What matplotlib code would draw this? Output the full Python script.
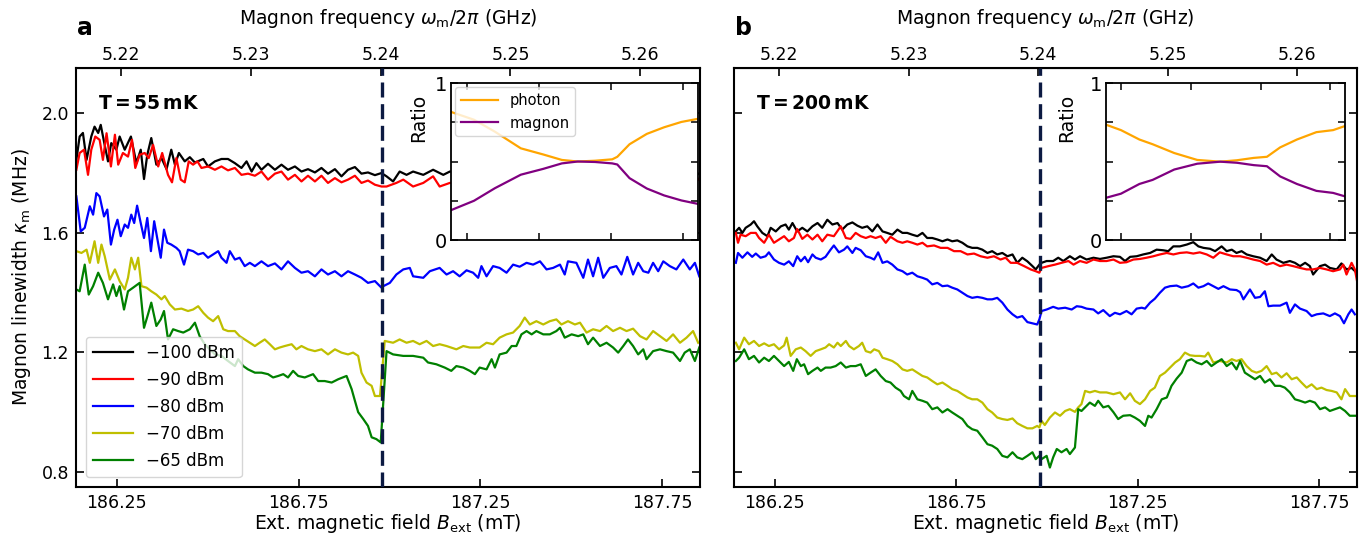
import numpy as np
import matplotlib
matplotlib.use('Agg')
import matplotlib.pyplot as plt

# ---------------------------------------------------------------------
# Data: (B_ext [mT], kappa_m [MHz]) pairs
# ---------------------------------------------------------------------
powers = ['\u2212100 dBm', '\u221290 dBm', '\u221280 dBm', '\u221270 dBm', '\u221265 dBm']
colors = ['k', 'r', 'b', 'y', 'g']

# T = 55 mK
k55_m100 = [(186.139, 1.843), (186.148, 1.921), (186.157, 1.933), (186.167, 1.843), (186.180, 1.921),
            (186.189, 1.954), (186.199, 1.933), (186.206, 1.960), (186.215, 1.904), (186.226, 1.838),
            (186.235, 1.899), (186.249, 1.877), (186.258, 1.921), (186.272, 1.877), (186.289, 1.921),
            (186.304, 1.832), (186.316, 1.877), (186.325, 1.779), (186.334, 1.860), (186.345, 1.916),
            (186.359, 1.827), (186.373, 1.849), (186.387, 1.812), (186.400, 1.877), (186.410, 1.827),
            (186.421, 1.866), (186.437, 1.838), (186.451, 1.852), (186.465, 1.834), (186.488, 1.846),
            (186.501, 1.821), (186.520, 1.838), (186.538, 1.846), (186.556, 1.846), (186.575, 1.832),
            (186.593, 1.816), (186.607, 1.838), (186.621, 1.804), (186.634, 1.832), (186.648, 1.810),
            (186.666, 1.830), (186.685, 1.810), (186.703, 1.827), (186.721, 1.810), (186.740, 1.821),
            (186.758, 1.804), (186.776, 1.812), (186.795, 1.801), (186.813, 1.816), (186.831, 1.797),
            (186.850, 1.812), (186.868, 1.788), (186.886, 1.810), (186.905, 1.819), (186.923, 1.797),
            (186.941, 1.801), (186.960, 1.792), (186.978, 1.799), (186.992, 1.788), (187.010, 1.771),
            (187.028, 1.804), (187.047, 1.793), (187.065, 1.804), (187.093, 1.793), (187.120, 1.810),
            (187.148, 1.793), (187.166, 1.804), (187.250, 1.800), (187.400, 1.800), (187.550, 1.800),
            (187.700, 1.800), (187.800, 1.800), (187.840, 1.790), (187.855, 1.800)]
k55_m90 = [(186.139, 1.810), (186.148, 1.866), (186.160, 1.877), (186.171, 1.793), (186.180, 1.877),
           (186.191, 1.921), (186.203, 1.910), (186.212, 1.843), (186.222, 1.932), (186.234, 1.821),
           (186.245, 1.927), (186.254, 1.827), (186.267, 1.866), (186.281, 1.854), (186.292, 1.910),
           (186.301, 1.816), (186.313, 1.860), (186.327, 1.866), (186.338, 1.849), (186.350, 1.893),
           (186.364, 1.821), (186.375, 1.866), (186.391, 1.793), (186.402, 1.768), (186.414, 1.849),
           (186.426, 1.777), (186.437, 1.768), (186.448, 1.838), (186.460, 1.827), (186.472, 1.838),
           (186.483, 1.816), (186.501, 1.821), (186.520, 1.810), (186.538, 1.821), (186.556, 1.808),
           (186.575, 1.816), (186.593, 1.793), (186.611, 1.797), (186.630, 1.790), (186.648, 1.804),
           (186.666, 1.777), (186.685, 1.797), (186.703, 1.804), (186.721, 1.777), (186.740, 1.793),
           (186.758, 1.771), (186.776, 1.790), (186.795, 1.771), (186.813, 1.790), (186.831, 1.766),
           (186.850, 1.782), (186.868, 1.768), (186.886, 1.777), (186.905, 1.790), (186.923, 1.766),
           (186.941, 1.774), (186.960, 1.760), (186.978, 1.754), (186.992, 1.754), (187.019, 1.766),
           (187.038, 1.777), (187.065, 1.754), (187.093, 1.766), (187.120, 1.788), (187.138, 1.754),
           (187.166, 1.766), (187.250, 1.775), (187.400, 1.775), (187.550, 1.775), (187.700, 1.775),
           (187.800, 1.775), (187.840, 1.765), (187.855, 1.785)]
k55_m80 = [(186.139, 1.721), (186.151, 1.604), (186.162, 1.616), (186.176, 1.688), (186.185, 1.660),
           (186.194, 1.732), (186.203, 1.721), (186.215, 1.654), (186.224, 1.677), (186.234, 1.560),
           (186.243, 1.610), (186.252, 1.643), (186.261, 1.588), (186.272, 1.627), (186.281, 1.616),
           (186.290, 1.660), (186.298, 1.632), (186.306, 1.690), (186.316, 1.632), (186.325, 1.582),
           (186.334, 1.649), (186.344, 1.538), (186.353, 1.638), (186.362, 1.577), (186.371, 1.516),
           (186.380, 1.610), (186.389, 1.566), (186.400, 1.560), (186.414, 1.549), (186.423, 1.538),
           (186.435, 1.493), (186.446, 1.543), (186.460, 1.538), (186.474, 1.527), (186.488, 1.532),
           (186.501, 1.516), (186.515, 1.527), (186.529, 1.538), (186.538, 1.516), (186.552, 1.499),
           (186.561, 1.538), (186.575, 1.510), (186.588, 1.516), (186.602, 1.488), (186.616, 1.499),
           (186.630, 1.488), (186.648, 1.504), (186.666, 1.488), (186.685, 1.497), (186.703, 1.477),
           (186.721, 1.504), (186.740, 1.482), (186.758, 1.466), (186.776, 1.471), (186.795, 1.454),
           (186.813, 1.477), (186.831, 1.460), (186.850, 1.471), (186.868, 1.454), (186.886, 1.471),
           (186.905, 1.460), (186.923, 1.449), (186.941, 1.432), (186.960, 1.438), (186.978, 1.416),
           (186.983, 1.421), (187.001, 1.432), (187.019, 1.460), (187.038, 1.477), (187.056, 1.482),
           (187.065, 1.454), (187.093, 1.449), (187.111, 1.471), (187.138, 1.482), (187.157, 1.460),
           (187.175, 1.471), (187.193, 1.454), (187.212, 1.474), (187.230, 1.466), (187.244, 1.449),
           (187.253, 1.488), (187.267, 1.454), (187.285, 1.488), (187.303, 1.482), (187.322, 1.466),
           (187.340, 1.493), (187.358, 1.486), (187.377, 1.499), (187.395, 1.493), (187.414, 1.504),
           (187.432, 1.477), (187.450, 1.482), (187.469, 1.493), (187.482, 1.460), (187.491, 1.504),
           (187.514, 1.499), (187.533, 1.449), (187.546, 1.510), (187.560, 1.454), (187.574, 1.516),
           (187.588, 1.449), (187.606, 1.482), (187.624, 1.488), (187.638, 1.460), (187.654, 1.519),
           (187.670, 1.460), (187.684, 1.499), (187.698, 1.471), (187.712, 1.466), (187.725, 1.499),
           (187.739, 1.471), (187.753, 1.504), (187.771, 1.488), (187.789, 1.477), (187.808, 1.510),
           (187.826, 1.477), (187.840, 1.499), (187.852, 1.454)]
k55_m70 = [(186.139, 1.538), (186.153, 1.532), (186.167, 1.543), (186.176, 1.499), (186.189, 1.571),
           (186.199, 1.499), (186.208, 1.560), (186.217, 1.521), (186.231, 1.443), (186.245, 1.477),
           (186.258, 1.438), (186.272, 1.410), (186.281, 1.449), (186.290, 1.516), (186.300, 1.477),
           (186.309, 1.516), (186.318, 1.421), (186.332, 1.416), (186.345, 1.404), (186.359, 1.393),
           (186.373, 1.377), (186.382, 1.388), (186.396, 1.360), (186.410, 1.343), (186.428, 1.346),
           (186.446, 1.338), (186.460, 1.343), (186.474, 1.354), (186.488, 1.332), (186.501, 1.316),
           (186.515, 1.304), (186.529, 1.321), (186.543, 1.277), (186.556, 1.271), (186.575, 1.271),
           (186.588, 1.254), (186.602, 1.243), (186.616, 1.232), (186.630, 1.221), (186.643, 1.232),
           (186.657, 1.243), (186.671, 1.227), (186.685, 1.210), (186.698, 1.216), (186.712, 1.221),
           (186.731, 1.227), (186.744, 1.210), (186.758, 1.221), (186.776, 1.210), (186.795, 1.204),
           (186.813, 1.210), (186.831, 1.193), (186.850, 1.210), (186.868, 1.199), (186.886, 1.193),
           (186.900, 1.199), (186.914, 1.188), (186.923, 1.132), (186.937, 1.099), (186.951, 1.088),
           (186.960, 1.054), (186.974, 1.054), (186.987, 1.238), (187.010, 1.232), (187.028, 1.243),
           (187.047, 1.232), (187.065, 1.238), (187.083, 1.227), (187.102, 1.238), (187.120, 1.221),
           (187.138, 1.227), (187.157, 1.221), (187.184, 1.210), (187.203, 1.221), (187.221, 1.216),
           (187.248, 1.216), (187.267, 1.232), (187.285, 1.227), (187.303, 1.249), (187.322, 1.260),
           (187.340, 1.266), (187.358, 1.288), (187.372, 1.316), (187.386, 1.293), (187.404, 1.304),
           (187.423, 1.293), (187.441, 1.304), (187.459, 1.310), (187.473, 1.293), (187.491, 1.304),
           (187.510, 1.293), (187.524, 1.299), (187.542, 1.266), (187.560, 1.277), (187.579, 1.271),
           (187.597, 1.288), (187.615, 1.271), (187.634, 1.282), (187.652, 1.271), (187.670, 1.279),
           (187.689, 1.254), (187.707, 1.243), (187.725, 1.271), (187.744, 1.254), (187.762, 1.238),
           (187.780, 1.260), (187.799, 1.232), (187.817, 1.249), (187.835, 1.271), (187.849, 1.232)]
k55_m65 = [(186.139, 1.410), (186.148, 1.404), (186.162, 1.493), (186.173, 1.393), (186.185, 1.421),
           (186.199, 1.466), (186.212, 1.432), (186.226, 1.377), (186.240, 1.427), (186.249, 1.388),
           (186.258, 1.421), (186.270, 1.343), (186.281, 1.404), (186.295, 1.416), (186.313, 1.432),
           (186.325, 1.282), (186.336, 1.327), (186.345, 1.366), (186.359, 1.288), (186.371, 1.310),
           (186.380, 1.338), (186.391, 1.243), (186.405, 1.277), (186.419, 1.271), (186.433, 1.266),
           (186.451, 1.277), (186.465, 1.299), (186.478, 1.254), (186.492, 1.227), (186.506, 1.210),
           (186.520, 1.193), (186.538, 1.188), (186.556, 1.171), (186.575, 1.154), (186.584, 1.177),
           (186.598, 1.154), (186.611, 1.143), (186.630, 1.132), (186.648, 1.132), (186.666, 1.127),
           (186.680, 1.116), (186.694, 1.121), (186.708, 1.127), (186.721, 1.116), (186.735, 1.138),
           (186.749, 1.121), (186.767, 1.116), (186.790, 1.127), (186.804, 1.104), (186.822, 1.104),
           (186.841, 1.099), (186.859, 1.110), (186.882, 1.121), (186.896, 1.077), (186.905, 1.038),
           (186.914, 1.000), (186.928, 0.977), (186.941, 0.954), (186.951, 0.916), (186.964, 0.910),
           (186.976, 0.899), (186.992, 1.204), (187.010, 1.193), (187.038, 1.188), (187.065, 1.188),
           (187.093, 1.182), (187.106, 1.166), (187.129, 1.160), (187.152, 1.149), (187.170, 1.138),
           (187.184, 1.154), (187.203, 1.149), (187.221, 1.138), (187.235, 1.127), (187.248, 1.149),
           (187.267, 1.143), (187.281, 1.177), (187.290, 1.149), (187.303, 1.193), (187.322, 1.199),
           (187.336, 1.221), (187.349, 1.221), (187.363, 1.260), (187.377, 1.271), (187.391, 1.260),
           (187.404, 1.271), (187.423, 1.260), (187.441, 1.260), (187.459, 1.271), (187.469, 1.282),
           (187.482, 1.249), (187.501, 1.260), (187.519, 1.254), (187.533, 1.260), (187.546, 1.227),
           (187.560, 1.249), (187.579, 1.221), (187.597, 1.232), (187.615, 1.216), (187.629, 1.199),
           (187.643, 1.221), (187.656, 1.243), (187.670, 1.221), (187.684, 1.193), (187.698, 1.210),
           (187.707, 1.177), (187.725, 1.204), (187.744, 1.210), (187.762, 1.204), (187.780, 1.199),
           (187.799, 1.171), (187.812, 1.199), (187.826, 1.210), (187.840, 1.171), (187.852, 1.216)]

# T = 200 mK
k200_m100 = [(186.143, 1.604), (186.152, 1.616), (186.161, 1.599), (186.170, 1.616), (186.184, 1.627),
             (186.193, 1.638), (186.202, 1.621), (186.216, 1.599), (186.230, 1.588), (186.239, 1.616),
             (186.253, 1.604), (186.267, 1.621), (186.280, 1.627), (186.289, 1.610), (186.299, 1.632),
             (186.312, 1.604), (186.326, 1.616), (186.340, 1.604), (186.354, 1.621), (186.368, 1.632),
             (186.381, 1.616), (186.395, 1.643), (186.409, 1.627), (186.423, 1.632), (186.436, 1.610),
             (186.450, 1.627), (186.464, 1.634), (186.478, 1.623), (186.491, 1.616), (186.505, 1.621),
             (186.519, 1.604), (186.533, 1.627), (186.547, 1.604), (186.560, 1.599), (186.574, 1.593),
             (186.588, 1.610), (186.602, 1.599), (186.615, 1.599), (186.629, 1.593), (186.643, 1.588),
             (186.657, 1.599), (186.670, 1.582), (186.684, 1.582), (186.698, 1.577), (186.712, 1.571),
             (186.726, 1.577), (186.739, 1.571), (186.753, 1.574), (186.767, 1.566), (186.781, 1.554),
             (186.794, 1.549), (186.808, 1.549), (186.822, 1.543), (186.836, 1.532), (186.849, 1.538),
             (186.863, 1.527), (186.877, 1.532), (186.891, 1.521), (186.905, 1.527), (186.918, 1.499),
             (186.932, 1.516), (186.946, 1.504), (186.960, 1.488), (186.969, 1.477), (186.979, 1.493),
             (186.985, 1.499), (186.999, 1.505), (187.017, 1.505), (187.031, 1.516), (187.045, 1.505),
             (187.063, 1.521), (187.077, 1.510), (187.091, 1.521), (187.109, 1.510), (187.128, 1.516),
             (187.146, 1.512), (187.164, 1.516), (187.183, 1.521), (187.201, 1.519), (187.215, 1.505),
             (187.229, 1.519), (187.247, 1.521), (187.265, 1.527), (187.284, 1.532), (187.302, 1.543),
             (187.320, 1.541), (187.334, 1.538), (187.348, 1.554), (187.366, 1.554), (187.385, 1.560),
             (187.403, 1.568), (187.417, 1.554), (187.431, 1.549), (187.449, 1.546), (187.463, 1.538),
             (187.481, 1.554), (187.495, 1.538), (187.509, 1.543), (187.522, 1.532), (187.536, 1.538),
             (187.550, 1.527), (187.568, 1.521), (187.587, 1.516), (187.605, 1.505), (187.619, 1.527),
             (187.632, 1.510), (187.651, 1.499), (187.669, 1.505), (187.683, 1.499), (187.697, 1.488),
             (187.711, 1.499), (187.724, 1.488), (187.733, 1.460), (187.752, 1.488), (187.766, 1.493),
             (187.779, 1.482), (187.798, 1.477), (187.811, 1.497), (187.825, 1.477), (187.839, 1.482),
             (187.853, 1.466)]
k200_m90 = [(186.143, 1.599), (186.149, 1.566), (186.156, 1.593), (186.170, 1.588), (186.184, 1.599),
            (186.198, 1.599), (186.207, 1.582), (186.221, 1.566), (186.234, 1.593), (186.248, 1.566),
            (186.262, 1.577), (186.276, 1.588), (186.289, 1.571), (186.303, 1.582), (186.312, 1.612),
            (186.326, 1.579), (186.340, 1.593), (186.354, 1.577), (186.368, 1.593), (186.381, 1.571),
            (186.395, 1.593), (186.413, 1.588), (186.432, 1.621), (186.446, 1.582), (186.459, 1.579),
            (186.473, 1.599), (186.487, 1.588), (186.501, 1.582), (186.514, 1.588), (186.528, 1.582),
            (186.542, 1.588), (186.556, 1.566), (186.569, 1.586), (186.588, 1.571), (186.602, 1.566),
            (186.615, 1.571), (186.629, 1.566), (186.643, 1.560), (186.657, 1.566), (186.670, 1.554),
            (186.689, 1.557), (186.707, 1.549), (186.726, 1.549), (186.744, 1.538), (186.762, 1.538),
            (186.781, 1.527), (186.799, 1.530), (186.817, 1.521), (186.836, 1.516), (186.854, 1.521),
            (186.872, 1.510), (186.886, 1.516), (186.900, 1.499), (186.918, 1.499), (186.937, 1.488),
            (186.955, 1.477), (186.969, 1.471), (186.979, 1.466), (186.985, 1.482), (187.004, 1.488),
            (187.022, 1.493), (187.040, 1.499), (187.059, 1.505), (187.073, 1.493), (187.091, 1.505),
            (187.109, 1.499), (187.128, 1.510), (187.146, 1.505), (187.164, 1.505), (187.183, 1.510),
            (187.201, 1.499), (187.219, 1.501), (187.238, 1.510), (187.256, 1.512), (187.274, 1.516),
            (187.293, 1.521), (187.311, 1.527), (187.330, 1.532), (187.348, 1.527), (187.366, 1.532),
            (187.385, 1.534), (187.403, 1.530), (187.421, 1.534), (187.440, 1.527), (187.458, 1.516),
            (187.476, 1.534), (187.495, 1.527), (187.513, 1.521), (187.532, 1.521), (187.550, 1.516),
            (187.568, 1.510), (187.587, 1.505), (187.605, 1.493), (187.623, 1.499), (187.642, 1.488),
            (187.660, 1.493), (187.678, 1.488), (187.697, 1.482), (187.715, 1.477), (187.733, 1.477),
            (187.752, 1.482), (187.770, 1.477), (187.788, 1.471), (187.807, 1.477), (187.816, 1.493),
            (187.825, 1.460), (187.839, 1.499), (187.848, 1.477), (187.854, 1.438)]
k200_m80 = [(186.143, 1.499), (186.149, 1.532), (186.161, 1.516), (186.175, 1.534), (186.188, 1.519),
            (186.198, 1.530), (186.211, 1.516), (186.225, 1.521), (186.234, 1.534), (186.248, 1.510),
            (186.262, 1.499), (186.276, 1.493), (186.289, 1.504), (186.301, 1.488), (186.312, 1.521),
            (186.322, 1.504), (186.333, 1.519), (186.342, 1.501), (186.354, 1.527), (186.363, 1.516),
            (186.377, 1.510), (186.390, 1.519), (186.404, 1.543), (186.413, 1.557), (186.427, 1.534),
            (186.441, 1.543), (186.450, 1.554), (186.464, 1.532), (186.473, 1.549), (186.487, 1.541),
            (186.501, 1.521), (186.514, 1.516), (186.524, 1.510), (186.535, 1.534), (186.547, 1.499),
            (186.560, 1.504), (186.574, 1.493), (186.588, 1.477), (186.602, 1.471), (186.615, 1.460),
            (186.629, 1.466), (186.643, 1.454), (186.657, 1.449), (186.670, 1.443), (186.684, 1.427),
            (186.698, 1.432), (186.712, 1.421), (186.726, 1.423), (186.739, 1.416), (186.753, 1.410),
            (186.767, 1.399), (186.781, 1.388), (186.794, 1.382), (186.808, 1.385), (186.822, 1.382),
            (186.836, 1.377), (186.849, 1.377), (186.863, 1.382), (186.877, 1.366), (186.891, 1.343),
            (186.905, 1.327), (186.918, 1.316), (186.932, 1.321), (186.946, 1.301), (186.960, 1.297),
            (186.973, 1.293), (186.979, 1.310), (186.985, 1.338), (186.999, 1.343), (187.017, 1.352),
            (187.031, 1.346), (187.050, 1.349), (187.068, 1.343), (187.082, 1.354), (187.095, 1.352),
            (187.109, 1.346), (187.128, 1.343), (187.141, 1.330), (187.155, 1.341), (187.173, 1.321),
            (187.187, 1.332), (187.201, 1.327), (187.219, 1.338), (187.233, 1.327), (187.247, 1.346),
            (187.261, 1.349), (187.270, 1.346), (187.284, 1.366), (187.297, 1.379), (187.311, 1.399),
            (187.325, 1.416), (187.339, 1.421), (187.357, 1.423), (187.371, 1.416), (187.389, 1.421),
            (187.403, 1.430), (187.417, 1.416), (187.431, 1.421), (187.444, 1.430), (187.458, 1.421),
            (187.472, 1.412), (187.486, 1.421), (187.504, 1.410), (187.522, 1.408), (187.532, 1.401),
            (187.541, 1.377), (187.559, 1.410), (187.573, 1.382), (187.587, 1.385), (187.600, 1.404),
            (187.610, 1.354), (187.623, 1.356), (187.642, 1.356), (187.660, 1.366), (187.669, 1.332),
            (187.683, 1.360), (187.697, 1.346), (187.715, 1.338), (187.729, 1.321), (187.743, 1.327),
            (187.761, 1.330), (187.779, 1.321), (187.793, 1.330), (187.807, 1.321), (187.818, 1.297),
            (187.830, 1.327), (187.839, 1.343), (187.848, 1.327)]
k200_m70 = [(186.143, 1.232), (186.152, 1.210), (186.166, 1.249), (186.179, 1.227), (186.193, 1.238),
            (186.207, 1.221), (186.221, 1.230), (186.234, 1.221), (186.248, 1.227), (186.262, 1.210),
            (186.276, 1.223), (186.283, 1.249), (186.294, 1.188), (186.308, 1.210), (186.322, 1.216),
            (186.335, 1.204), (186.349, 1.188), (186.363, 1.204), (186.377, 1.210), (186.390, 1.216),
            (186.400, 1.227), (186.413, 1.216), (186.423, 1.232), (186.432, 1.221), (186.446, 1.238),
            (186.455, 1.221), (186.468, 1.210), (186.482, 1.221), (186.491, 1.232), (186.501, 1.204),
            (186.514, 1.199), (186.524, 1.210), (186.537, 1.204), (186.547, 1.182), (186.560, 1.177),
            (186.574, 1.171), (186.588, 1.160), (186.602, 1.143), (186.615, 1.138), (186.629, 1.143),
            (186.643, 1.132), (186.657, 1.121), (186.670, 1.116), (186.684, 1.104), (186.698, 1.093),
            (186.712, 1.099), (186.726, 1.088), (186.739, 1.077), (186.753, 1.071), (186.767, 1.060),
            (186.781, 1.049), (186.794, 1.043), (186.808, 1.043), (186.822, 1.032), (186.836, 1.010),
            (186.849, 0.999), (186.863, 0.982), (186.877, 0.977), (186.891, 0.974), (186.905, 0.979),
            (186.918, 0.963), (186.932, 0.954), (186.946, 0.946), (186.960, 0.946), (186.973, 0.954),
            (186.979, 0.949), (186.985, 0.971), (186.994, 0.957), (187.008, 0.982), (187.022, 0.999),
            (187.036, 0.988), (187.050, 1.004), (187.063, 1.010), (187.077, 1.001), (187.086, 1.016),
            (187.095, 1.027), (187.105, 1.071), (187.118, 1.066), (187.132, 1.071), (187.146, 1.066),
            (187.164, 1.066), (187.183, 1.060), (187.201, 1.066), (187.215, 1.043), (187.229, 1.063),
            (187.242, 1.038), (187.256, 1.027), (187.270, 1.043), (187.284, 1.071), (187.297, 1.082),
            (187.311, 1.121), (187.325, 1.132), (187.339, 1.149), (187.353, 1.166), (187.366, 1.177),
            (187.380, 1.199), (187.394, 1.190), (187.408, 1.188), (187.421, 1.188), (187.435, 1.186),
            (187.444, 1.199), (187.458, 1.166), (187.476, 1.171), (187.495, 1.166), (187.509, 1.177),
            (187.522, 1.171), (187.536, 1.177), (187.550, 1.154), (187.564, 1.138), (187.577, 1.132),
            (187.591, 1.138), (187.605, 1.154), (187.619, 1.127), (187.632, 1.132), (187.646, 1.116),
            (187.660, 1.130), (187.674, 1.110), (187.688, 1.116), (187.701, 1.099), (187.715, 1.082),
            (187.729, 1.093), (187.743, 1.077), (187.756, 1.082), (187.770, 1.074), (187.784, 1.071),
            (187.798, 1.066), (187.811, 1.043), (187.821, 1.077), (187.834, 1.054), (187.853, 1.054)]
k200_m65 = [(186.143, 1.171), (186.152, 1.182), (186.166, 1.210), (186.179, 1.177), (186.193, 1.188),
            (186.207, 1.166), (186.221, 1.182), (186.234, 1.171), (186.248, 1.188), (186.262, 1.171),
            (186.276, 1.154), (186.289, 1.168), (186.301, 1.138), (186.311, 1.177), (186.322, 1.154),
            (186.331, 1.160), (186.342, 1.127), (186.354, 1.138), (186.368, 1.149), (186.377, 1.138),
            (186.390, 1.149), (186.404, 1.149), (186.418, 1.154), (186.432, 1.166), (186.446, 1.149),
            (186.459, 1.154), (186.473, 1.154), (186.487, 1.160), (186.501, 1.121), (186.514, 1.132),
            (186.528, 1.143), (186.542, 1.121), (186.556, 1.104), (186.569, 1.099), (186.583, 1.082),
            (186.597, 1.071), (186.606, 1.054), (186.620, 1.043), (186.629, 1.071), (186.643, 1.043),
            (186.657, 1.038), (186.670, 1.032), (186.684, 1.010), (186.698, 1.016), (186.712, 0.999),
            (186.726, 1.010), (186.739, 0.999), (186.753, 0.988), (186.767, 0.977), (186.781, 0.954),
            (186.794, 0.943), (186.808, 0.938), (186.822, 0.916), (186.836, 0.893), (186.849, 0.888),
            (186.863, 0.877), (186.877, 0.854), (186.891, 0.849), (186.905, 0.866), (186.918, 0.849),
            (186.932, 0.843), (186.946, 0.854), (186.960, 0.866), (186.969, 0.843), (186.979, 0.854),
            (186.985, 0.843), (186.999, 0.854), (187.008, 0.815), (187.017, 0.849), (187.027, 0.877),
            (187.040, 0.866), (187.054, 0.877), (187.063, 0.860), (187.077, 0.882), (187.086, 1.010),
            (187.095, 1.004), (187.105, 1.016), (187.118, 1.032), (187.132, 1.021), (187.141, 1.038),
            (187.155, 1.016), (187.169, 1.021), (187.183, 1.000), (187.196, 0.977), (187.210, 0.988),
            (187.229, 0.990), (187.242, 0.982), (187.256, 0.971), (187.270, 0.954), (187.279, 0.988),
            (187.288, 0.982), (187.302, 1.010), (187.316, 1.043), (187.330, 1.049), (187.343, 1.088),
            (187.357, 1.112), (187.371, 1.132), (187.385, 1.171), (187.398, 1.177), (187.412, 1.166),
            (187.426, 1.160), (187.440, 1.171), (187.453, 1.154), (187.467, 1.166), (187.481, 1.177),
            (187.495, 1.154), (187.509, 1.166), (187.522, 1.143), (187.532, 1.171), (187.545, 1.132),
            (187.559, 1.121), (187.573, 1.110), (187.587, 1.121), (187.600, 1.099), (187.614, 1.110),
            (187.628, 1.088), (187.642, 1.088), (187.655, 1.082), (187.669, 1.066), (187.683, 1.043),
            (187.697, 1.038), (187.711, 1.032), (187.724, 1.038), (187.738, 1.032), (187.752, 1.010),
            (187.766, 1.016), (187.779, 1.004), (187.793, 1.010), (187.807, 1.016), (187.821, 1.004),
            (187.834, 0.988), (187.853, 0.988)]

# Inset: photon / magnon ratio (arbitrary field axis of the inset)
inset_x_55 = [-0.22, 0.10, 0.39, 0.75, 1.06, 1.32, 1.54, 1.78, 2.02, 2.09, 2.26, 2.50, 2.74, 2.98, 3.21]
photon_55 = [0.816, 0.766, 0.690, 0.584, 0.545, 0.510, 0.500, 0.505, 0.514, 0.530, 0.610, 0.676, 0.718, 0.752, 0.772]
magnon_55 = [0.190, 0.250, 0.330, 0.416, 0.453, 0.488, 0.500, 0.497, 0.488, 0.481, 0.394, 0.328, 0.284, 0.252, 0.230]
inset_x_200 = [-0.21, -0.005, 0.26, 0.45, 0.76, 1.09, 1.42, 1.66, 1.90, 2.09, 2.28, 2.52, 2.80, 3.04, 3.21]
photon_200 = [0.733, 0.700, 0.640, 0.610, 0.554, 0.510, 0.499, 0.508, 0.523, 0.530, 0.590, 0.640, 0.687, 0.700, 0.726]
magnon_200 = [0.270, 0.295, 0.357, 0.383, 0.449, 0.486, 0.499, 0.492, 0.477, 0.470, 0.405, 0.357, 0.313, 0.300, 0.278]

GAMMA = 0.028025   # GHz / mT, omega_m/2pi = gamma * B
B_RES = 186.98     # mT, dashed line

panels = [
    ('a', r'$\mathbf{T = 55\,mK}$', [k55_m100, k55_m90, k55_m80, k55_m70, k55_m65],
     inset_x_55, photon_55, magnon_55),
    ('b', r'$\mathbf{T = 200\,mK}$', [k200_m100, k200_m90, k200_m80, k200_m70, k200_m65],
     inset_x_200, photon_200, magnon_200),
]

fig = plt.figure(figsize=(13.72, 5.44), dpi=100)
main_pos = [[0.0554, 0.1048, 0.4548, 0.7702], [0.535, 0.1048, 0.4541, 0.7702]]
inset_pos = [[0.3287, 0.5588, 0.1800, 0.2886], [0.8061, 0.5588, 0.1742, 0.2886]]
ratio_x = [-0.093, -0.125]

for i, (letter, tlabel, curves, ix, ph, mg) in enumerate(panels):
    ax = fig.add_axes(main_pos[i])
    for data, c, lab in zip(curves, colors, powers):
        arr = np.array(data)
        ax.plot(arr[:, 0], arr[:, 1], color=c, lw=1.6, label=lab)
    ax.axvline(B_RES, color='#0c1a42', lw=2.4, ls=(0, (4.5, 2.0)), zorder=5)

    ax.set_xlim(186.138, 187.854)
    ax.set_ylim(0.75, 2.15)
    ax.set_xticks([186.25, 186.75, 187.25, 187.75])
    ax.set_yticks([0.8, 1.2, 1.6, 2.0])
    ax.tick_params(direction='in', length=6, width=1.2, right=True, labelsize=12.5, pad=5)
    for sp in ax.spines.values():
        sp.set_linewidth(1.5)
    ax.set_xlabel(r'Ext. magnetic field $B_\mathrm{ext}$ (mT)', fontsize=13.5, labelpad=0)
    if i == 0:
        ax.set_ylabel(r'Magnon linewidth $\kappa_\mathrm{m}$ (MHz)', fontsize=13.5, labelpad=6)
        ax.legend(loc='lower left', fontsize=12, handlelength=2.4, borderaxespad=0.6,
                  labelspacing=0.55)
    else:
        ax.set_yticklabels([])

    sec = ax.secondary_xaxis('top', functions=(lambda b: b * GAMMA, lambda f: f / GAMMA))
    sec.set_xticks([5.22, 5.23, 5.24, 5.25, 5.26])
    sec.tick_params(direction='in', length=6, width=1.2, labelsize=12.5, pad=3)
    sec.set_xlabel(r'Magnon frequency $\omega_\mathrm{m}/2\pi$ (GHz)', fontsize=13.5, labelpad=16)

    ax.text(0.035, 0.915, tlabel, transform=ax.transAxes, fontsize=13.5, va='center')
    fig.text(main_pos[i][0] + 0.0005, 0.949, letter, fontsize=17, fontweight='bold', va='center')

    # inset
    ins = fig.add_axes(inset_pos[i])
    ins.plot(ix, ph, color='orange', lw=1.6, label='photon')
    ins.plot(ix, mg, color='purple', lw=1.6, label='magnon')
    ins.set_xlim(-0.22, 3.21)
    ins.set_ylim(0, 1)
    ins.set_xticks([0, 1, 2, 3])
    ins.set_yticks([0, 0.25, 0.5, 0.75, 1])
    ins.set_yticklabels(['0', '', '', '', '1'])
    ins.tick_params(direction='in', length=5, width=1.1, top=True, right=True,
                    labelbottom=False, labelsize=14, pad=3)
    for sp in ins.spines.values():
        sp.set_linewidth(1.3)
    ins.set_ylabel('Ratio', fontsize=13.5)
    ins.yaxis.set_label_coords(ratio_x[i], 0.78)
    if i == 0:
        ins.legend(loc='upper left', fontsize=10.5, handlelength=2.5, borderaxespad=0.3)

fig.savefig('out.png', dpi=100)
